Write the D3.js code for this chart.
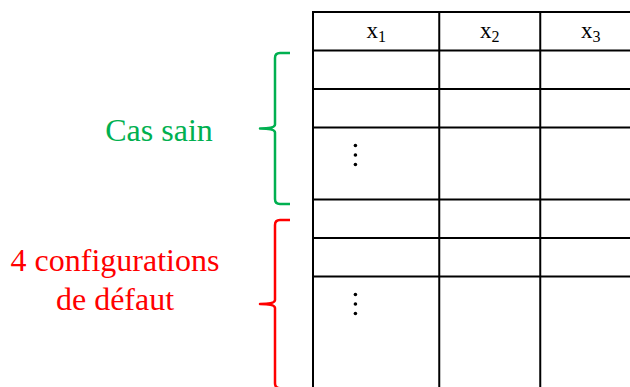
<!DOCTYPE html>
<html><head><meta charset="utf-8">
<script src="https://cdn.jsdelivr.net/npm/d3@7"></script>
<style>html,body{margin:0;padding:0;background:#fff;}svg{display:block;}
text{font-family:"Liberation Serif",serif;}</style>
</head><body>
<script>
// ---- data ----
const columns = ["1", "2", "3"];            // subscripts of x
const columnWeights = [1.25, 1, 1];
const rowWeights = [1, 1, 1, 1.87, 1, 1, 3]; // header, rows..., dotted rows
const dottedRows = [3, 6];
const groupLabels = [["Cas sain"], ["4 configurations", "de défaut"]];
const groupSpans = [[1.065, 4.99], [5.4, 9.77]]; // in row units
const groupColors = ["#00B050", "#FF0000"];

const W = 630, H = 387;
const svg = d3.select("body").append("svg").attr("width", W).attr("height", H);

const y = d3.scaleLinear().domain([0, 1]).range([12, 50.5]);
const x = d3.scaleLinear().domain([0, 1]).range([313, 414]);

const rowEdges = [0]; rowWeights.forEach(w => rowEdges.push(rowEdges[rowEdges.length - 1] + w));
const colEdges = [0]; columnWeights.forEach(w => colEdges.push(colEdges[colEdges.length - 1] + w));

const g = svg.append("g");
g.selectAll("line.h").data(rowEdges).join("line").attr("class", "h")
  .attr("x1", x(0) - 1).attr("x2", x(colEdges[colEdges.length - 1]))
  .attr("y1", d => y(d)).attr("y2", d => y(d))
  .attr("stroke", "#000").attr("stroke-width", 2);
g.selectAll("line.v").data(colEdges).join("line").attr("class", "v")
  .attr("x1", d => x(d)).attr("x2", d => x(d))
  .attr("y1", y(0) - 1).attr("y2", y(rowEdges[rowEdges.length - 1]))
  .attr("stroke", "#000").attr("stroke-width", 2);

const hdr = g.selectAll("text.hdr").data(columns).join("text").attr("class", "hdr")
  .attr("x", (d, i) => (x(colEdges[i]) + x(colEdges[i + 1])) / 2)
  .attr("y", y(0) + 25.5)
  .attr("text-anchor", "middle")
  .style("font-size", "23px").attr("fill", "#000");
hdr.append("tspan").text("x");
hdr.append("tspan").style("font-size", "16px").attr("dy", 4).text(d => d);

dottedRows.forEach(r => {
  [18, 27.5, 37].forEach(off => {
    g.append("circle").attr("cx", x(0.42)).attr("cy", y(rowEdges[r]) + off)
      .attr("r", 1.8).attr("fill", "#000");
  });
});

const xv = 275, xe = 290, xt = 260, rr = 5;
groupSpans.forEach((s, i) => {
  const t = y(s[0]), b = y(s[1]), m = (t + b) / 2;
  const p = `M${xe},${t} L${xv + rr},${t} Q${xv},${t} ${xv},${t + rr} L${xv},${m - 4} Q${xv},${m} ${xt},${m} Q${xv},${m} ${xv},${m + 4} L${xv},${b - rr} Q${xv},${b} ${xv + rr},${b} L${xe},${b}`;
  svg.append("path").attr("d", p).attr("fill", "none")
    .attr("stroke", groupColors[i]).attr("stroke-width", 2.5).attr("stroke-linejoin", "round");
});

const labelPos = [[159, 141], [115, 271]];
groupLabels.forEach((lines, i) => {
  const t = svg.append("text").attr("text-anchor", "middle")
    .style("font-size", "32px").attr("fill", groupColors[i]);
  lines.forEach((l, j) => {
    t.append("tspan").attr("x", labelPos[i][0]).attr("y", labelPos[i][1] + j * 39).text(l);
  });
});
</script>
</body></html>
